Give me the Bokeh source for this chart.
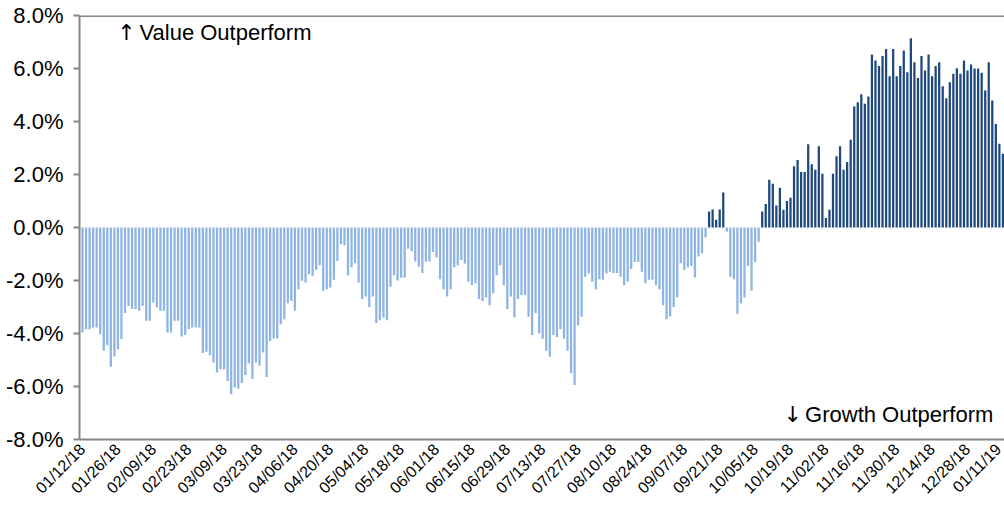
import pandas as pd
from bokeh.plotting import figure
from bokeh.models import (Range1d, FixedTicker, PrintfTickFormatter, Label, Span,
                          ColumnDataSource)
from bokeh.embed import file_html
from bokeh.resources import INLINE
from math import pi

# ---------------- data ----------------
dates = [d.strftime("%m/%d/%y") for d in pd.bdate_range("2018-01-12", "2019-01-11")]

spread_pct = [
    # 01/12/18 ...
    -3.96, -3.84, -3.84, -3.77, -3.77, -4.03, -4.65, -4.44, -5.25, -4.87,
    -4.59, -4.21, -3.23, -2.96, -3.08, -3.08, -3.14, -2.96, -3.52, -3.52,
    -2.83, -3.02, -3.14, -3.14, -3.96, -3.96, -3.52, -3.52, -4.11, -4.06,
    -3.84, -3.77, -3.77, -3.77, -4.74, -4.69, -4.82, -5.09, -5.47, -5.35,
    -5.35, -5.79, -6.29, -6.04, -6.08, -5.87, -5.57, -5.12, -5.72, -5.09,
    -5.22, -4.72, -5.64, -4.28, -4.19, -4.19, -3.65, -3.46, -2.86, -2.77,
    -3.14, -2.33, -2.01, -2.08, -1.76, -1.82, -1.60, -1.42, -2.39, -2.33,
    -2.26, -1.97, -1.26, -0.63,
    # 04/27/18 ...
    -0.67, -1.80, -1.50, -1.35, -2.08, -2.70, -2.60, -3.00, -2.60, -3.60,
    -3.50, -3.40, -3.50, -2.24, -1.80, -2.00, -1.90, -1.90, -0.80, -0.90,
    -1.28, -1.48, -1.72, -1.28, -1.28, -0.92, -1.13, -1.95, -2.33, -2.60,
    -2.33, -1.50, -1.42, -1.23, -1.36, -2.05, -2.18, -2.10, -2.70, -2.77,
    -2.64, -2.93, -2.48, -1.80, -1.42, -2.18, -3.08, -2.60, -3.40, -2.70,
    -2.55, -2.55, -3.37, -4.06, -3.23, -4.00, -4.20, -4.65, -4.88, -4.06,
    -4.13, -3.84, -4.20, -4.65, -5.50, -5.94, -3.70, -3.37, -1.86, -1.74,
    -2.05, -2.33, -1.95, -1.97, -1.74, -1.67, -1.72, -1.72, -1.86, -2.18,
    -2.05, -1.57, -1.30, -1.30, -1.67, -2.10, -1.97, -1.97, -2.18, -2.33,
    -2.93, -3.46,
    # 08/31/18 ...
    -3.36, -3.00, -2.64, -1.35, -1.60, -1.50, -1.45, -1.89, -1.09, -0.98,
    -0.38,
    0.60, 0.68, 0.29, 0.68, 1.32,
    -0.16, -1.86, -1.95, -3.25, -2.86, -2.64, -1.45, -2.39, -1.30, -0.54,
    # 10/15/18 ...
    0.60, 0.89, 1.80, 1.65, 0.83, 1.50, 0.67, 1.00, 1.12, 2.31,
    2.55, 2.09, 2.09, 3.14, 2.39, 2.18, 3.07, 2.03, 0.36, 0.67,
    2.03, 2.69, 3.07, 2.18, 2.47, 3.31, 4.57, 4.73, 5.03, 4.67,
    4.94, 6.53, 6.30, 6.09, 6.47, 6.74, 5.71, 6.74, 5.71, 6.09,
    6.68, 5.86, 7.14, 6.24, 5.64, 6.47, 5.92, 6.53, 5.71, 6.09,
    6.24, 5.33, 4.88, 5.48, 5.80, 6.01, 5.80, 6.30, 5.92, 6.15,
    6.00, 6.00, 5.84, 5.17, 6.24, 4.79, 3.91, 3.16, 2.78,
]

tick_labels = ["01/12/18", "01/26/18", "02/09/18", "02/23/18", "03/09/18", "03/23/18",
               "04/06/18", "04/20/18", "05/04/18", "05/18/18", "06/01/18", "06/15/18",
               "06/29/18", "07/13/18", "07/27/18", "08/10/18", "08/24/18", "09/07/18",
               "09/21/18", "10/05/18", "10/19/18", "11/02/18", "11/16/18", "11/30/18",
               "12/14/18", "12/28/18", "01/11/19"]

y_ticks = [-8, -6, -4, -2, 0, 2, 4, 6, 8]

POS_COLOR = "#1F497D"
NEG_COLOR = "#8DB4E2"
AXIS_GRAY = "#868686"
FONT = "Liberation Sans"
ARROW_FONT = "DejaVu Sans"

# ---------------- figure ----------------
n = min(len(dates), len(spread_pct))
idx = list(range(n))
colors = [POS_COLOR if v >= 0 else NEG_COLOR for v in spread_pct[:n]]
src = ColumnDataSource(dict(x=idx, top=spread_pct[:n], color=colors, date=dates[:n]))

p = figure(width=1004, height=505, output_backend="svg", toolbar_location=None,
           x_range=Range1d(-0.85, 260.45), y_range=Range1d(-8, 8),
           min_border_left=79, min_border_top=15, min_border_right=0, min_border_bottom=60)

p.vbar(x="x", top="top", bottom=0, width=0.64, color="color", line_color=None, source=src)

p.xgrid.visible = False
p.ygrid.visible = False
p.outline_line_color = None
p.background_fill_color = "white"
p.border_fill_color = "white"

# x axis
tick_pos = [i * 10 for i in range(len(tick_labels))]
xa = p.xaxis[0]
xa.ticker = FixedTicker(ticks=tick_pos)
xa.major_label_overrides = {t: lab for t, lab in zip(tick_pos, tick_labels)}
xa.major_label_orientation = pi / 4
xa.major_tick_line_color = None
xa.minor_tick_line_color = None
xa.axis_line_color = AXIS_GRAY
xa.axis_line_width = 2
xa.major_label_text_font = FONT
xa.major_label_text_font_size = "16px"
xa.major_label_text_color = "#000000"
xa.major_label_standoff = 1

# y axis
ya = p.yaxis[0]
ya.ticker = FixedTicker(ticks=y_ticks)
ya.formatter = PrintfTickFormatter(format="%.1f%%")
ya.minor_tick_line_color = None
ya.major_tick_in = 0
ya.major_tick_out = 6
ya.major_tick_line_color = AXIS_GRAY
ya.major_tick_line_width = 2
ya.axis_line_color = AXIS_GRAY
ya.axis_line_width = 2
ya.major_label_text_font = FONT
ya.major_label_text_font_size = "22px"
ya.major_label_text_color = "#000000"
ya.major_label_standoff = 10

# top border line
p.add_layout(Span(location=8, dimension="width", line_color=AXIS_GRAY, line_width=3))

# annotations (arrow glyphs in a font that has them)
p.add_layout(Label(x=12.4, y=7.36, text="↑", text_font=ARROW_FONT,
                   text_font_size="22px", text_color="#000000",
                   text_align="center", text_baseline="middle"))
p.add_layout(Label(x=16.1, y=7.36, text="Value Outperform", text_font=FONT,
                   text_font_size="22px", text_color="#000000",
                   text_align="left", text_baseline="middle"))
p.add_layout(Label(x=200.6, y=-7.05, text="↓", text_font=ARROW_FONT,
                   text_font_size="22px", text_color="#000000",
                   text_align="center", text_baseline="middle"))
p.add_layout(Label(x=257.3, y=-7.05, text="Growth Outperform", text_font=FONT,
                   text_font_size="22px", text_color="#000000",
                   text_align="right", text_baseline="middle"))

open("out.html", "w").write(file_html(p, INLINE))
